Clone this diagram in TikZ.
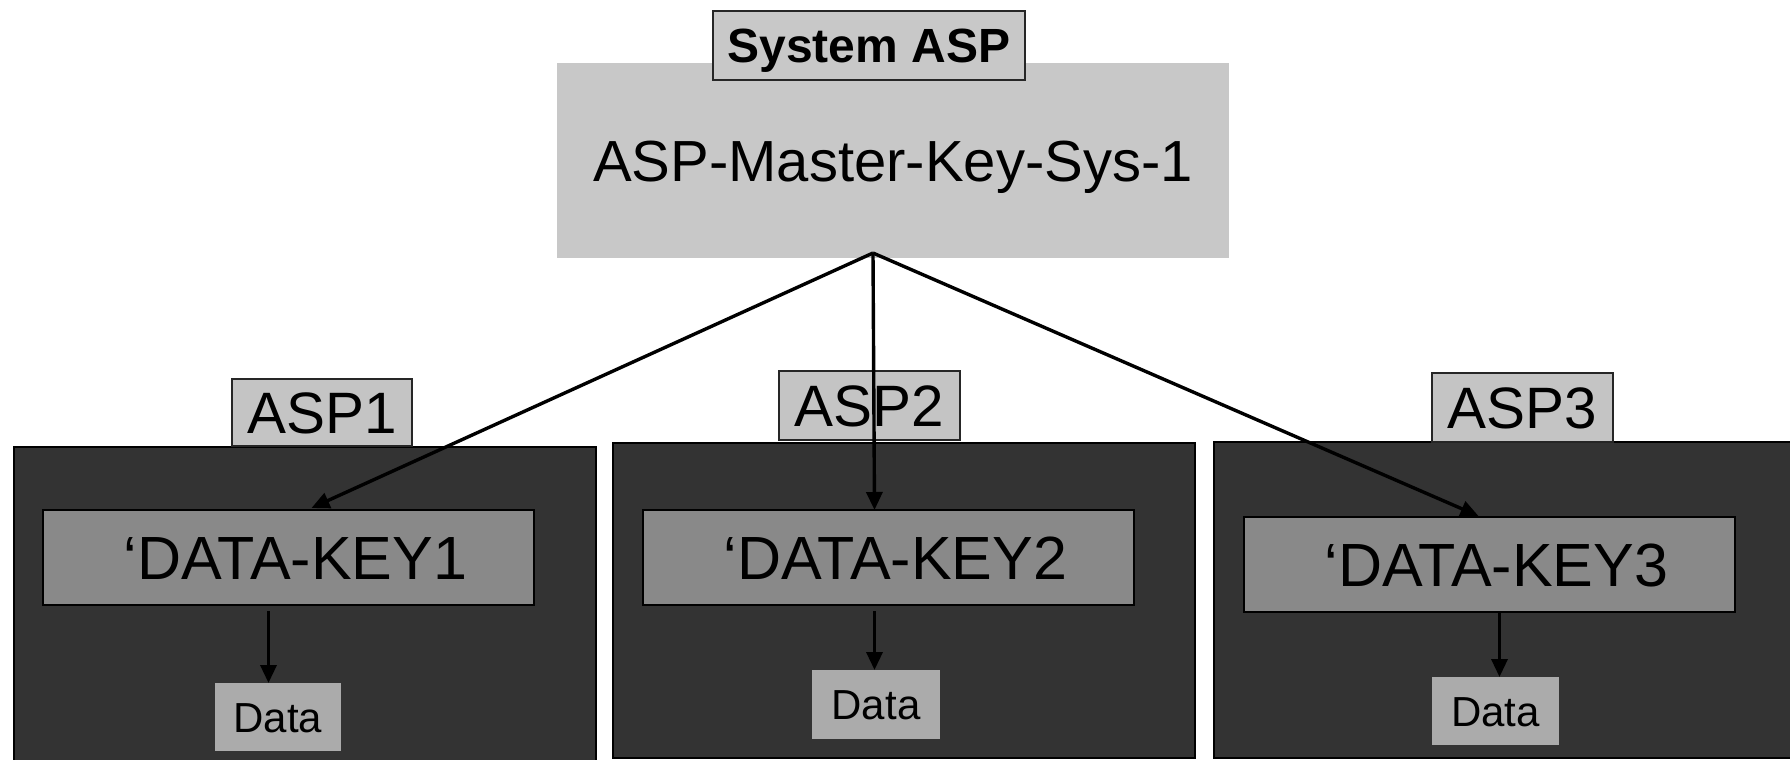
\documentclass[tikz,border=0pt]{standalone}
\usepackage{fontspec}
\setmainfont{Liberation Sans}
\usetikzlibrary{calc,arrows.meta}

\definecolor{masterfill}{HTML}{C8C8C8}
\definecolor{tagfill}{HTML}{C4C4C4}
\definecolor{aspfill}{HTML}{333333}
\definecolor{keyfill}{HTML}{898989}
\definecolor{datafill}{HTML}{ABABAB}

\begin{document}
\begin{tikzpicture}[x=0.5pt,y=-0.5pt,
  base/.style={inner sep=0pt, outer sep=0pt, text=black, align=center,
    text depth=0pt},
  sz/.style 2 args={minimum width=#1*0.5pt, minimum height=#2*0.5pt},
  masterbox/.style={base, fill=masterfill, text height=20.8pt,
    font=\fontsize{29}{34}\selectfont},
  systag/.style={base, fill=masterfill, draw=black!85, line width=0.9pt,
    text height=17.2pt, font=\fontsize{24}{28}\selectfont\bfseries},
  asptag/.style={base, fill=tagfill, draw=black!85, line width=0.9pt,
    text height=20.9pt, font=\fontsize{29.2}{34}\selectfont},
  aspbox/.style={base, fill=aspfill, draw=black, line width=1pt},
  keybox/.style={base, fill=keyfill, draw=black, line width=1pt,
    text height=21.8pt, font=\fontsize{30.5}{36}\selectfont},
  databox/.style={base, fill=datafill, text height=15pt,
    font=\fontsize{21}{25}\selectfont},
  arr/.style={line width=1.7pt, draw=black, -{Triangle[length=9pt,width=8pt]}}
]
\useasboundingbox (0,0) rectangle (1790,760);
\clip (0,0) rectangle (1790,760);
\fill[white] (0,0) rectangle (1790,760);

% master key block with its tag
\node[masterbox, sz={672}{195}] (master) at (893,160.5) {ASP-Master-Key-Sys-1};
\node[systag, sz={312}{69}] (sys) at (869,45.5) {System ASP};

% three ASP containers
\node[aspbox, sz={582}{343}] (asp1) at (305,618.5) {};
\node[aspbox, sz={582}{315}] (asp2) at (904,600.5) {};
\node[aspbox, sz={586}{316}] (asp3) at (1507,600) {};

\node[asptag, sz={180}{67}] (tag1) at (322,412.5) {ASP1};
\node[asptag, sz={181}{69}] (tag2) at (869.5,405.5) {ASP2};
\node[asptag, sz={181}{69}] (tag3) at (1522.5,407.5) {ASP3};

% data keys
\node[keybox, sz={491}{95}] (dk1) at (288.5,557.5) {\hspace*{7pt}‘DATA-KEY1};
\node[keybox, sz={491}{95}] (dk2) at (888.5,557.5) {\hspace*{7pt}‘DATA-KEY2};
\node[keybox, sz={491}{95}] (dk3) at (1489.5,564.5) {\hspace*{7pt}‘DATA-KEY3};

% data blocks
\node[databox, sz={126}{68}] (data1) at (278,717) {Data};
\node[databox, sz={128}{69}] (data2) at (876,704.5) {Data};
\node[databox, sz={127}{68}] (data3) at (1495.5,711) {Data};

% master key fans out to the data keys
\coordinate (hub) at ($(master.south)+(-20,-5)$);
\draw[arr] (hub) -- ($(dk1.north)+(23,-2)$);
\draw[arr] (hub) -- ($(dk2.north)+(-14,0)$);
\draw[arr] (hub) -- ($(dk3.north)+(-11,-1)$);

% each data key protects its data
\coordinate (s1) at ($(dk1.south)+(-20,6)$);
\coordinate (s2) at ($(dk2.south)+(-14,6)$);
\coordinate (s3) at ($(dk3.south)+(10,1)$);
\draw[arr] (s1) -- (s1 |- data1.north);
\draw[arr] (s2) -- (s2 |- data2.north);
\draw[arr] (s3) -- (s3 |- data3.north);
\end{tikzpicture}
\end{document}
